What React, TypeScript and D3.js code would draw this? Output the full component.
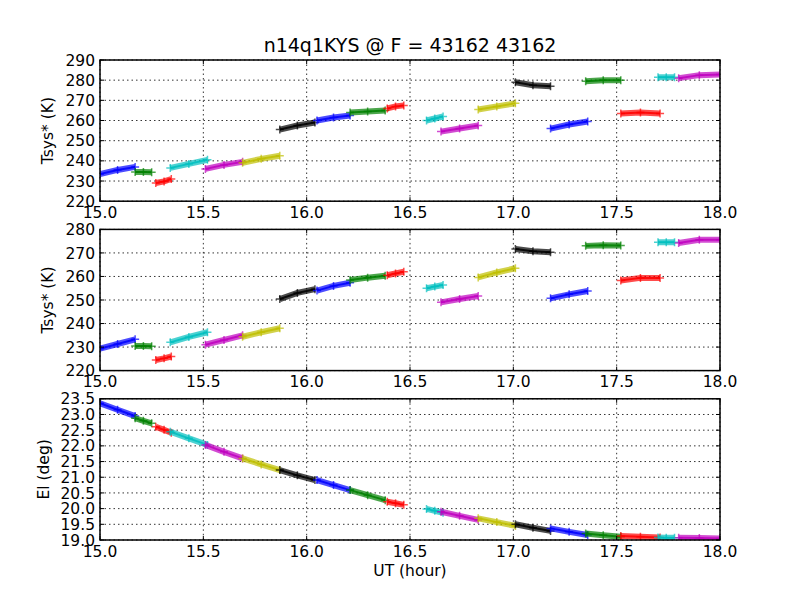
import React from "react";
import * as d3 from "d3";

// matplotlib colour cycle: b g r c m y k
const segColors = [
  "#0000ff", "#008000", "#ff0000", "#00bfbf", "#bf00bf", "#bfbf00", "#000000",
  "#0000ff", "#008000", "#ff0000", "#00bfbf", "#bf00bf", "#bfbf00", "#000000",
  "#0000ff", "#008000", "#ff0000", "#00bfbf", "#bf00bf",
];

// UT (hour) of first, middle and last sample of each scan
const segTimes: number[][] = [
  [15.0, 15.085, 15.17],
  [15.17, 15.21, 15.25],
  [15.27, 15.31, 15.345],
  [15.34, 15.43, 15.52],
  [15.51, 15.6, 15.69],
  [15.69, 15.78, 15.87],
  [15.87, 15.955, 16.04],
  [16.05, 16.13, 16.21],
  [16.21, 16.295, 16.38],
  [16.39, 16.43, 16.47],
  [16.58, 16.62, 16.66],
  [16.65, 16.74, 16.83],
  [16.83, 16.92, 17.01],
  [17.01, 17.095, 17.18],
  [17.18, 17.27, 17.36],
  [17.35, 17.435, 17.52],
  [17.52, 17.615, 17.71],
  [17.7, 17.74, 17.78],
  [17.8, 17.9, 18.0],
];

const tsysTop: number[][] = [
  [233.5, 235.5, 237],
  [234.5, 234.5, 234.3],
  [229, 229.8, 231],
  [236.5, 238.5, 240.5],
  [236, 238, 239.5],
  [239, 241, 242.5],
  [255.5, 257.5, 259],
  [260, 261.5, 262.5],
  [264, 264.5, 265],
  [266, 267, 267.5],
  [260, 261, 262],
  [254.5, 256, 257.5],
  [265.5, 267, 268.5],
  [279, 277.5, 277],
  [256, 258, 259.5],
  [279.5, 280, 280],
  [263.5, 264, 263.5],
  [281.5, 281.5, 281.5],
  [281, 282.5, 282.8],
];

const tsysMid: number[][] = [
  [229.3, 231.3, 233.3],
  [230.5, 230.5, 230.3],
  [224.5, 225.2, 226],
  [232, 234.3, 236.3],
  [231, 233, 235],
  [234.4, 236.3, 238],
  [250.4, 253, 254.6],
  [254, 256, 257.3],
  [258.5, 259.5, 260.3],
  [260.5, 261.3, 262],
  [255, 255.7, 256.4],
  [249, 250.4, 251.7],
  [259.6, 261.7, 263.5],
  [271.7, 270.7, 270.3],
  [250.7, 252.4, 253.8],
  [273, 273.3, 273.2],
  [258.3, 259.4, 259.4],
  [274.5, 274.5, 274.5],
  [274.2, 275.6, 275.6],
];

const elev: number[][] = [
  [23.36, 23.15, 22.95],
  [22.88, 22.8, 22.72],
  [22.61, 22.51, 22.42],
  [22.45, 22.24, 22.03],
  [22.03, 21.81, 21.6],
  [21.6, 21.41, 21.23],
  [21.23, 21.06, 20.91],
  [20.91, 20.75, 20.59],
  [20.59, 20.43, 20.27],
  [20.22, 20.17, 20.12],
  [19.99, 19.93, 19.87],
  [19.9, 19.77, 19.64],
  [19.69, 19.57, 19.45],
  [19.5, 19.39, 19.29],
  [19.37, 19.26, 19.16],
  [19.21, 19.15, 19.1],
  [19.13, 19.1, 19.08],
  [19.08, 19.07, 19.07],
  [19.07, 19.06, 19.05],
];

const xTicks = [15.0, 15.5, 16.0, 16.5, 17.0, 17.5, 18.0];
const topTicks = [220, 230, 240, 250, 260, 270, 280, 290];
const midTicks = [220, 230, 240, 250, 260, 270, 280];
const elTicks = [19.0, 19.5, 20.0, 20.5, 21.0, 21.5, 22.0, 22.5, 23.0, 23.5];

const W = 800;
const H = 600;
const left = 100;
const right = 720;
const font = "'DejaVu Sans', sans-serif";
const fs = 15.5;

const Panel = ({
  id,
  top,
  bottom,
  domain,
  yTicks,
  values,
  ylabel,
  labelX,
  fmt,
}: {
  id: string;
  top: number;
  bottom: number;
  domain: [number, number];
  yTicks: number[];
  values: number[][];
  ylabel: string;
  labelX: number;
  fmt: (v: number) => string;
}) => {
  const x = d3.scaleLinear([15, 18], [left, right]);
  const y = d3.scaleLinear(domain, [bottom, top]);
  return (
    <g>
      <clipPath id={id}>
        <rect x={left} y={top} width={right - left} height={bottom - top} />
      </clipPath>
      {/* grid */}
      <g stroke="#000" strokeWidth={0.8} strokeDasharray="1.5,3">
        {xTicks.map((t) => (
          <line key={"gx" + t} x1={x(t)} x2={x(t)} y1={top} y2={bottom} />
        ))}
        {yTicks.map((t) => (
          <line key={"gy" + t} x1={left} x2={right} y1={y(t)} y2={y(t)} />
        ))}
      </g>
      {/* scans */}
      <g clipPath={`url(#${id})`}>
        {values.map((seg, s) => {
          const pts = seg.map((v, i) => [x(segTimes[s][i]), y(v)] as [number, number]);
          const p = d3.line()(pts) as string;
          return (
            <g key={s} stroke={segColors[s]} fill="none">
              <path d={p} strokeWidth={6} strokeOpacity={0.7} strokeLinecap="butt" />
              <path d={p} strokeWidth={2} strokeOpacity={0.85} />
              {pts.map(([px, py], i) => (
                <path
                  key={i}
                  d={`M${px - 4},${py}H${px + 4}M${px},${py - 4}V${py + 4}`}
                  strokeWidth={1.5}
                  strokeOpacity={0.7}
                />
              ))}
            </g>
          );
        })}
      </g>
      {/* ticks inside on all sides */}
      <g stroke="#000" strokeWidth={1}>
        {xTicks.map((t) => (
          <g key={"tx" + t}>
            <line x1={x(t)} x2={x(t)} y1={bottom} y2={bottom - 4} />
            <line x1={x(t)} x2={x(t)} y1={top} y2={top + 4} />
          </g>
        ))}
        {yTicks.map((t) => (
          <g key={"ty" + t}>
            <line x1={left} x2={left + 4} y1={y(t)} y2={y(t)} />
            <line x1={right} x2={right - 4} y1={y(t)} y2={y(t)} />
          </g>
        ))}
      </g>
      <rect x={left} y={top} width={right - left} height={bottom - top} fill="none" stroke="#000" strokeWidth={1.5} />
      {/* tick labels */}
      <g fontFamily={font} fontSize={fs} fill="#000">
        {xTicks.map((t) => (
          <text key={"lx" + t} x={x(t)} y={bottom + 16.5} textAnchor="middle">
            {t.toFixed(1)}
          </text>
        ))}
        {yTicks.map((t) => (
          <text key={"ly" + t} x={left - 5} y={y(t) + 5.6} textAnchor="end">
            {fmt(t)}
          </text>
        ))}
        <text
          transform={`translate(${labelX},${(top + bottom) / 2}) rotate(-90)`}
          textAnchor="middle"
        >
          {ylabel}
        </text>
      </g>
    </g>
  );
};

const App = () => {
  return (
    <div style={{ position: "absolute", left: 0, top: 0 }}>
      <svg width={W} height={H} style={{ display: "block", background: "#fff" }}>
        <rect width={W} height={H} fill="#fff" />
        <text x={410} y={52} textAnchor="middle" fontFamily={font} fontSize={19}>
          n14q1KYS @ F = 43162 43162
        </text>
        <Panel
          id="c1"
          top={60}
          bottom={201.2}
          domain={[220, 290]}
          yTicks={topTicks}
          values={tsysTop}
          ylabel="Tsys* (K)"
          labelX={53}
          fmt={(v) => String(v)}
        />
        <Panel
          id="c2"
          top={229.4}
          bottom={370.6}
          domain={[220, 280]}
          yTicks={midTicks}
          values={tsysMid}
          ylabel="Tsys* (K)"
          labelX={53}
          fmt={(v) => String(v)}
        />
        <Panel
          id="c3"
          top={398.8}
          bottom={540}
          domain={[19, 23.5]}
          yTicks={elTicks}
          values={elev}
          ylabel="El (deg)"
          labelX={49}
          fmt={(v) => v.toFixed(1)}
        />
        <text x={410} y={576} textAnchor="middle" fontFamily={font} fontSize={fs}>
          UT (hour)
        </text>
      </svg>
    </div>
  );
};

export default App;
